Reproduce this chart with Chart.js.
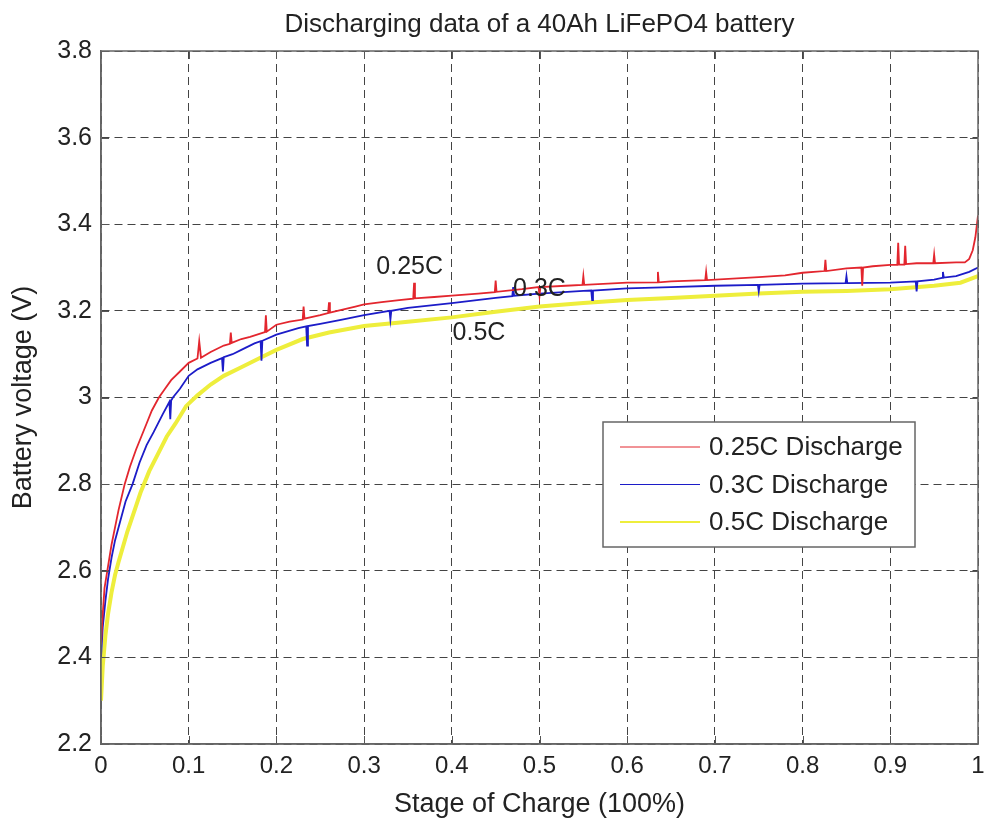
<!DOCTYPE html>
<html>
<head>
<meta charset="utf-8">
<script src="https://cdn.jsdelivr.net/npm/chart.js@4.4.1/dist/chart.umd.min.js"></script>
<style>
  body { margin: 0; background: #fff; }
  #wrap { width: 985px; height: 824px; }
</style>
</head>
<body>
<div id="wrap"><canvas id="myChart" width="985" height="824"></canvas></div>
<script>
// axis ticks
var xTickValues = [0, 0.1, 0.2, 0.3, 0.4, 0.5, 0.6, 0.7, 0.8, 0.9, 1];
var xTickLabels = ['0', '0.1', '0.2', '0.3', '0.4', '0.5', '0.6', '0.7', '0.8', '0.9', '1'];
var yTickValues = [2.2, 2.4, 2.6, 2.8, 3.0, 3.2, 3.4, 3.6, 3.8];
var yTickLabels = ['2.2', '2.4', '2.6', '2.8', '3', '3.2', '3.4', '3.6', '3.8'];

var seriesNames = ['0.25C Discharge', '0.3C Discharge', '0.5C Discharge'];

// 0.25C discharge (red)
var socRed = [0, 0.002, 0.004, 0.008, 0.012, 0.016, 0.02, 0.027, 0.033, 0.04, 0.046, 0.052, 0.058, 0.066, 0.073, 0.08, 0.09,
  0.1, 0.11, 0.112, 0.114, 0.125, 0.14, 0.147, 0.148, 0.149, 0.16, 0.17, 0.185, 0.187, 0.188, 0.189, 0.2, 0.215, 0.23, 0.231, 0.232,
  0.25, 0.259, 0.26, 0.261, 0.29, 0.3, 0.32, 0.34, 0.356, 0.357, 0.358, 0.38, 0.4, 0.43, 0.449, 0.45, 0.451, 0.48, 0.499, 0.5, 0.501,
  0.53, 0.549, 0.55, 0.551, 0.6, 0.634, 0.635, 0.636, 0.65, 0.689, 0.69, 0.691, 0.75, 0.78, 0.8, 0.825, 0.826, 0.827, 0.85,
  0.867, 0.868, 0.869, 0.88, 0.9, 0.908, 0.909, 0.91, 0.916, 0.917, 0.918, 0.93, 0.949, 0.95, 0.951, 0.975, 0.985, 0.99,
  0.994, 0.997, 1];
var voltRed = [2.43, 2.5, 2.56, 2.61, 2.66, 2.7, 2.74, 2.8, 2.84, 2.88, 2.91, 2.94, 2.97, 3.0, 3.02, 3.04, 3.06,
  3.08, 3.09, 3.13, 3.092, 3.105, 3.12, 3.124, 3.15, 3.126, 3.135, 3.14, 3.15, 3.151, 3.19, 3.152, 3.168, 3.175, 3.18, 3.21, 3.182,
  3.19, 3.195, 3.22, 3.196, 3.21, 3.215, 3.22, 3.225, 3.228, 3.265, 3.229, 3.232, 3.235, 3.24, 3.243, 3.27, 3.244, 3.25, 3.255, 3.235, 3.255,
  3.258, 3.26, 3.28, 3.26, 3.265, 3.266, 3.29, 3.266, 3.268, 3.271, 3.29, 3.271, 3.278, 3.282, 3.288, 3.292, 3.318, 3.292, 3.298,
  3.3, 3.258, 3.3, 3.303, 3.306, 3.306, 3.357, 3.307, 3.307, 3.35, 3.308, 3.31, 3.31, 3.33, 3.31, 3.312, 3.312, 3.32,
  3.34, 3.37, 3.42];

// 0.3C discharge (blue)
var socBlue = [0, 0.002, 0.005, 0.008, 0.012, 0.016, 0.02, 0.028, 0.036, 0.044, 0.052, 0.06, 0.07, 0.078, 0.079, 0.08, 0.082, 0.09,
  0.1, 0.11, 0.125, 0.138, 0.139, 0.14, 0.15, 0.16, 0.175, 0.182, 0.183, 0.184, 0.2, 0.225, 0.234, 0.235, 0.236, 0.25, 0.275, 0.3,
  0.329, 0.33, 0.331, 0.35, 0.4, 0.45, 0.469, 0.47, 0.471, 0.5, 0.55, 0.559, 0.56, 0.561, 0.6, 0.65, 0.7, 0.749, 0.75, 0.751,
  0.8, 0.849, 0.85, 0.851, 0.9, 0.929, 0.93, 0.931, 0.95, 0.959, 0.96, 0.961, 0.975, 0.99, 1];
var voltBlue = [2.4, 2.47, 2.53, 2.58, 2.63, 2.67, 2.7, 2.76, 2.8, 2.85, 2.89, 2.92, 2.96, 2.99, 2.95, 2.993, 3.0, 3.02,
  3.05, 3.065, 3.08, 3.091, 3.06, 3.093, 3.1, 3.11, 3.125, 3.13, 3.085, 3.131, 3.145, 3.16, 3.164, 3.12, 3.165, 3.17, 3.18, 3.19,
  3.2, 3.18, 3.2, 3.207, 3.218, 3.23, 3.234, 3.255, 3.235, 3.24, 3.246, 3.247, 3.225, 3.247, 3.252, 3.255, 3.258, 3.26, 3.245, 3.26,
  3.263, 3.264, 3.28, 3.264, 3.265, 3.268, 3.245, 3.268, 3.272, 3.276, 3.29, 3.277, 3.28, 3.29, 3.3];

// 0.5C discharge (yellow)
var socYellow = [0, 0.002, 0.005, 0.008, 0.012, 0.016, 0.02, 0.03, 0.04, 0.045, 0.055, 0.065, 0.075, 0.085, 0.097,
  0.11, 0.125, 0.14, 0.16, 0.18, 0.2, 0.23, 0.26, 0.3, 0.35, 0.4, 0.45, 0.5, 0.55, 0.6, 0.65, 0.7, 0.75, 0.8, 0.85,
  0.9, 0.95, 0.98, 1];
var voltYellow = [2.3, 2.38, 2.45, 2.5, 2.55, 2.59, 2.62, 2.69, 2.75, 2.78, 2.83, 2.87, 2.91, 2.94, 2.98,
  3.005, 3.03, 3.05, 3.07, 3.09, 3.11, 3.135, 3.15, 3.165, 3.175, 3.185, 3.198, 3.21, 3.218, 3.225, 3.23, 3.235, 3.24, 3.244, 3.246,
  3.25, 3.258, 3.265, 3.28];

// text labels on the curves, in data units
var noteText = ['0.25C', '0.3C', '0.5C'];
var noteX = [0.352, 0.5, 0.431];
var noteY = [3.3, 3.251, 3.149];

var FONT = '"Liberation Sans", Arial, sans-serif';

function toPoints(xs, ys) {
  return xs.map(function (x, i) { return { x: x, y: ys[i] }; });
}

var colors = ['#e3262e', '#1c1cc8', '#eeee3c'];

var extras = {
  id: 'extras',
  afterDraw: function (chart) {
    var ctx = chart.ctx;
    var a = chart.chartArea;
    var xs = chart.scales.x, ys = chart.scales.y;
    ctx.save();
    // inward ticks
    ctx.strokeStyle = '#555';
    ctx.lineWidth = 1;
    ctx.beginPath();
    xTickValues.forEach(function (v) {
      var px = Math.round(xs.getPixelForValue(v)) + 0.5;
      ctx.moveTo(px, a.bottom); ctx.lineTo(px, a.bottom - 8);
      ctx.moveTo(px, a.top); ctx.lineTo(px, a.top + 8);
    });
    yTickValues.forEach(function (v) {
      var py = Math.round(ys.getPixelForValue(v)) + 0.5;
      ctx.moveTo(a.left, py); ctx.lineTo(a.left + 8, py);
      ctx.moveTo(a.right, py); ctx.lineTo(a.right - 8, py);
    });
    ctx.stroke();
    // box
    ctx.strokeStyle = '#666';
    ctx.lineWidth = 1.5;
    ctx.strokeRect(a.left, a.top, a.right - a.left, a.bottom - a.top);

    // curve labels
    ctx.fillStyle = '#222';
    ctx.font = '25px ' + FONT;
    ctx.textAlign = 'center';
    ctx.textBaseline = 'middle';
    noteText.forEach(function (t, i) {
      ctx.fillText(t, xs.getPixelForValue(noteX[i]), ys.getPixelForValue(noteY[i]));
    });

    // legend
    var lx = 603, ly = 422, lw = 312, lh = 125;
    ctx.fillStyle = '#fff';
    ctx.fillRect(lx, ly, lw, lh);
    ctx.strokeStyle = '#666';
    ctx.lineWidth = 1.5;
    ctx.strokeRect(lx, ly, lw, lh);
    ctx.textAlign = 'left';
    ctx.font = '26px ' + FONT;
    seriesNames.forEach(function (name, i) {
      var yy = ly + 25 + i * 37.5;
      ctx.strokeStyle = colors[i];
      ctx.lineWidth = i === 2 ? 2 : 1;
      ctx.beginPath();
      ctx.moveTo(lx + 17, yy); ctx.lineTo(lx + 97, yy);
      ctx.stroke();
      ctx.fillStyle = '#222';
      ctx.fillText(name, lx + 106, yy + 1);
    });
    ctx.restore();
  }
};

var ctx = document.getElementById('myChart');
var myChart = new Chart(ctx, {
  type: 'line',
  data: {
    datasets: [
      { label: seriesNames[0], data: toPoints(socRed, voltRed), borderColor: colors[0], borderWidth: 1.8 },
      { label: seriesNames[1], data: toPoints(socBlue, voltBlue), borderColor: colors[1], borderWidth: 1.8 },
      { label: seriesNames[2], data: toPoints(socYellow, voltYellow), borderColor: colors[2], borderWidth: 4 }
    ]
  },
  options: {
    responsive: false,
    animation: false,
    devicePixelRatio: 1,
    layout: { padding: { left: 0, right: 7, top: 0, bottom: 0 } },
    elements: { point: { radius: 0 }, line: { tension: 0 } },
    plugins: {
      legend: { display: false },
      tooltip: { enabled: false },
      title: {
        display: true,
        fullSize: false,
        text: 'Discharging data of a 40Ah LiFePO4 battery',
        color: '#222',
        font: { family: FONT, size: 26, weight: 'normal' },
        padding: { top: 9.4, bottom: 10.4 }
      }
    },
    scales: {
      x: {
        type: 'linear',
        min: 0, max: 1,
        afterBuildTicks: function (s) { s.ticks = xTickValues.map(function (v) { return { value: v }; }); },
        afterFit: function (s) { s.height = 80; s.paddingLeft = 0; s.paddingRight = 0; },
        ticks: {
          color: '#222', padding: 8, maxRotation: 0, autoSkip: false,
          font: { family: FONT, size: 24 },
          callback: function (v, i) { return xTickLabels[i]; }
        },
        grid: { color: '#444', lineWidth: 1, drawTicks: false },
        border: { color: '#666', width: 1.5, dash: [8, 5] },
        title: {
          display: true, text: 'Stage of Charge (100%)', color: '#222',
          font: { family: FONT, size: 27 }, padding: { top: 3, bottom: 3 }
        }
      },
      y: {
        type: 'linear',
        min: 2.2, max: 3.8,
        afterBuildTicks: function (s) { s.ticks = yTickValues.map(function (v) { return { value: v }; }); },
        afterFit: function (s) { s.width = 101; },
        ticks: {
          color: '#222', padding: 9, autoSkip: false,
          font: { family: FONT, size: 25 },
          callback: function (v, i) { return yTickLabels[i]; }
        },
        grid: { color: '#444', lineWidth: 1, drawTicks: false },
        border: { color: '#666', width: 1.5, dash: [8, 5] },
        title: {
          display: true, text: 'Battery voltage (V)', color: '#222',
          font: { family: FONT, size: 27 }, padding: { top: 7, bottom: 0 }
        }
      }
    }
  },
  plugins: [extras]
});
</script>
</body>
</html>
